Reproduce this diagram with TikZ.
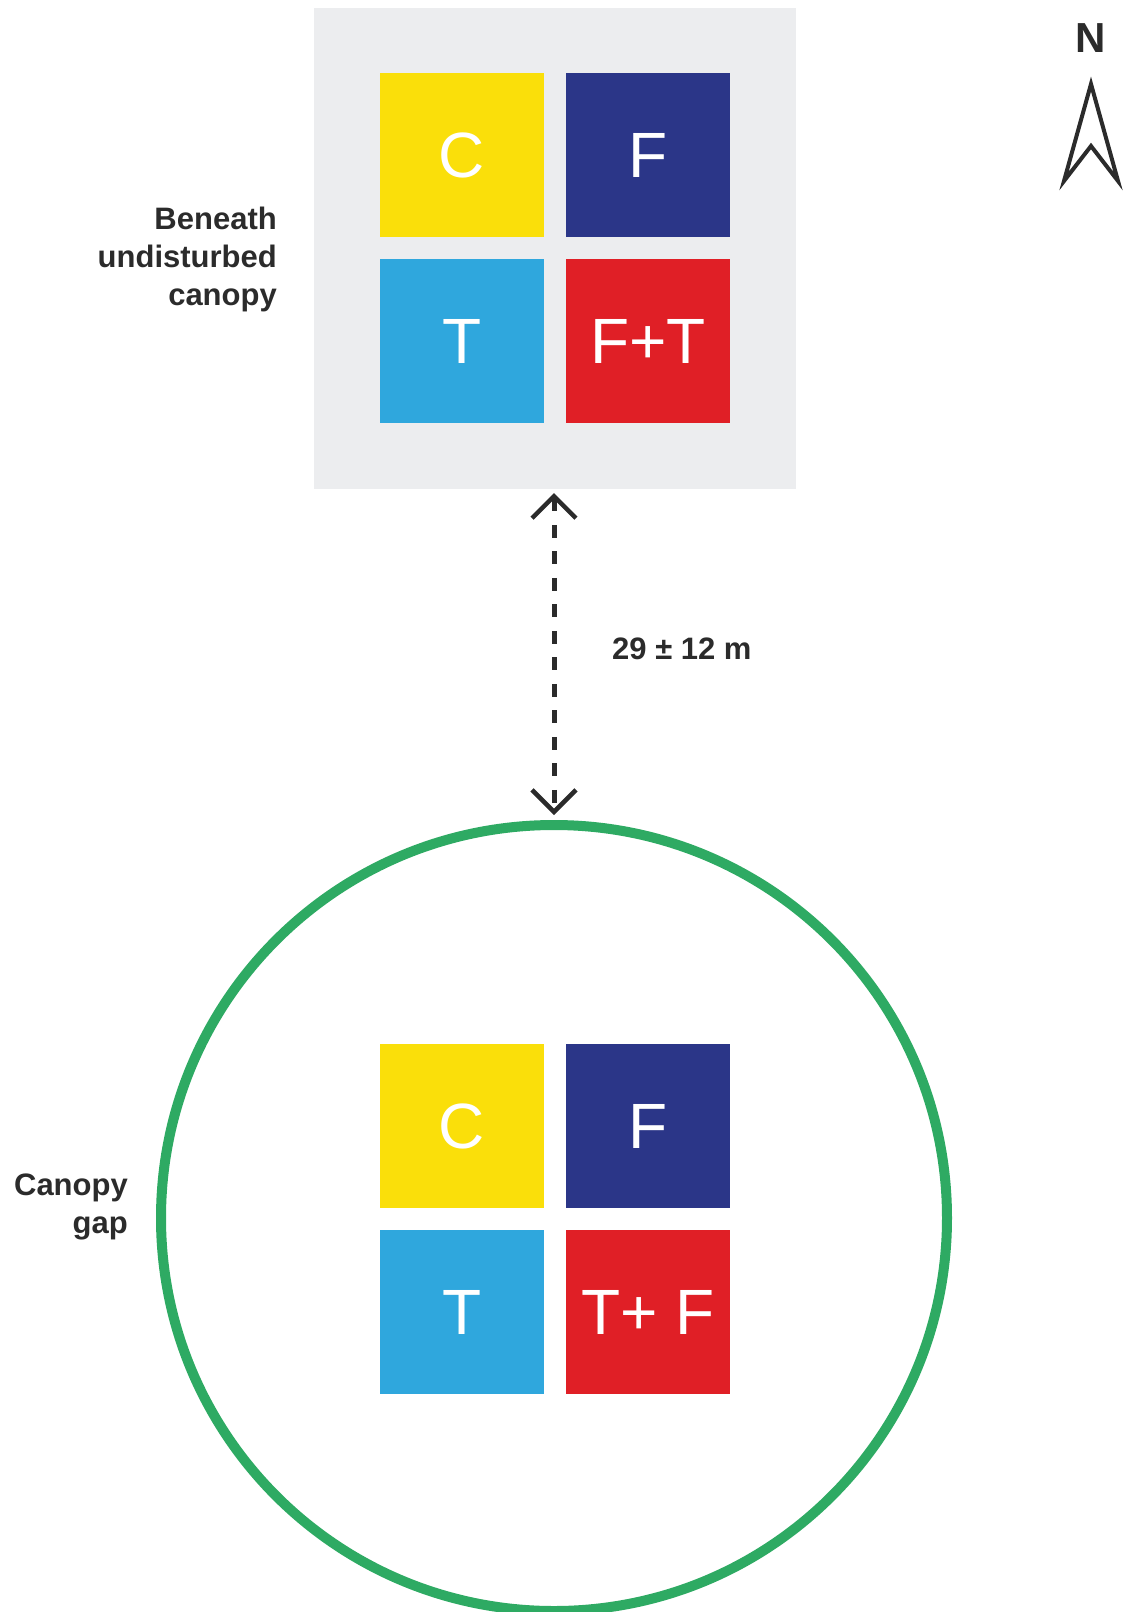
\documentclass[tikz,border=0pt]{standalone}
\usepackage{fontspec}
\setmainfont{Liberation Sans}
\usetikzlibrary{arrows.meta}
\definecolor{boxgray}{HTML}{ECEDEF}
\definecolor{cyellow}{HTML}{FADF0A}
\definecolor{cnavy}{HTML}{2B3688}
\definecolor{cblue}{HTML}{2FA7DD}
\definecolor{cred}{HTML}{E01F26}
\definecolor{cgreen}{HTML}{2EAA63}
\definecolor{txt}{HTML}{2B2B2B}
\tikzset{
  plot/.style={minimum width=164pt,minimum height=164pt,inner sep=0pt,outer sep=0pt,
    text=white,font=\fontsize{64}{64}\selectfont},
  lbl/.style={text=txt,font=\fontsize{31}{38}\selectfont\bfseries,align=right,inner sep=0pt},
  distarrow/.style={draw=txt,line width=5pt,dash pattern=on 13pt off 13.5pt,
    {Straight Barb[length=22pt,width=44pt,line width=4.5pt]}-{Straight Barb[length=22pt,width=44pt,line width=4.5pt]}}
}
\begin{document}
\begin{tikzpicture}[x=1pt,y=-1pt]
\useasboundingbox (0,0) rectangle (1131,1612);
% upper plot block
\node[fill=boxgray,minimum width=482pt,minimum height=481pt,inner sep=0pt,outer sep=0pt] (gbox) at (555,248.5) {};
\node[plot,fill=cyellow] (uc) at (462,155) {C};
\node[plot,fill=cnavy] (uf) at (648,155) {F};
\node[plot,fill=cblue] (ut) at (462,341) {T};
\node[plot,fill=cred] (uft) at (648,341) {F+T};
\node[lbl,anchor=north east] (ulbl) at (277,207) {Beneath\\undisturbed\\canopy};
% canopy gap
\node[circle,draw=cgreen,line width=10pt,minimum size=786pt,inner sep=0pt,outer sep=0pt] (gap) at (554,1218) {};
\node[plot,fill=cyellow] (gc) at (462,1126) {C};
\node[plot,fill=cnavy] (gf) at (648,1126) {F};
\node[plot,fill=cblue] (gt) at (462,1312) {T};
\node[plot,fill=cred] (gtf) at (648,1312) {T+ F};
\node[lbl,anchor=north east] (glbl) at (128,1174) {Canopy\\gap};
% distance arrow
\coordinate (atop) at (554,493);
\coordinate (abot) at (554,815);
\draw[distarrow] (atop) -- (abot);
\node[text=txt,font=\fontsize{31}{31}\selectfont\bfseries,anchor=west,inner sep=0pt] (dist) at (612,649) {29 ± 12 m};
% north arrow
\node[text=txt,font=\fontsize{42}{42}\selectfont\bfseries,inner sep=0pt] (nlbl) at (1091,38) {N};
\coordinate (ntip) at (1091,84);
\coordinate (nl) at (1064,181);
\coordinate (nr) at (1118,181);
\coordinate (nn) at (1091,146);
\draw[txt,line width=4pt,line join=miter] (ntip) -- (nl) -- (nn) -- (nr) -- cycle;
\end{tikzpicture}
\end{document}
